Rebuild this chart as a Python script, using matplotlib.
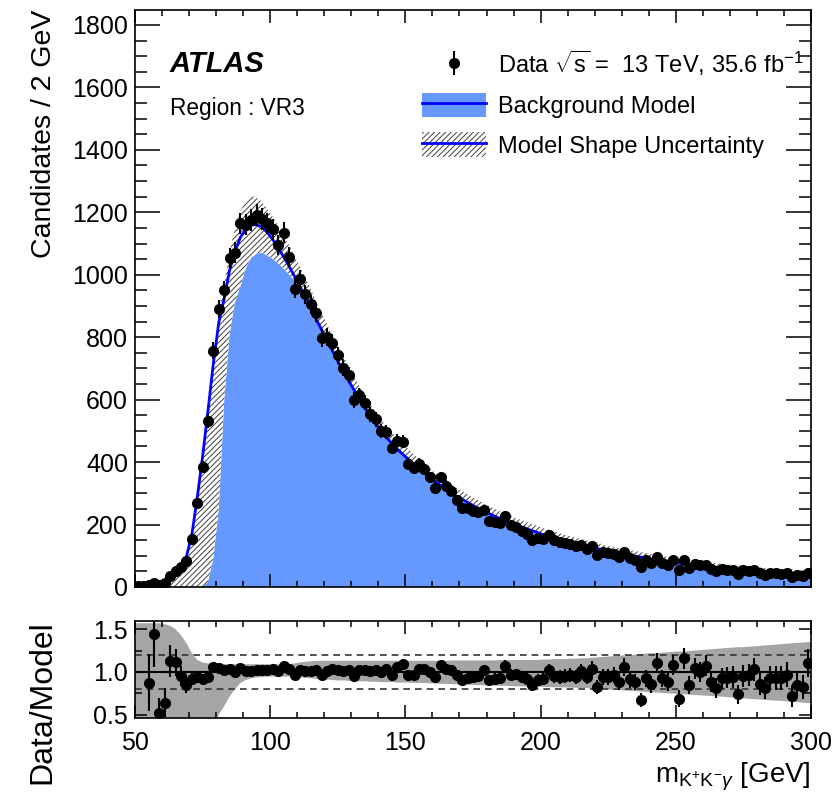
import numpy as np
import matplotlib
matplotlib.use('Agg')
import matplotlib.pyplot as plt
from matplotlib.ticker import MultipleLocator
from matplotlib.patches import Patch
from matplotlib.lines import Line2D

plt.rcParams['font.family'] = ['Liberation Sans', 'DejaVu Sans']
plt.rcParams['mathtext.fontset'] = 'custom'
plt.rcParams['mathtext.rm'] = 'Liberation Sans'
plt.rcParams['mathtext.it'] = 'Liberation Sans:italic'
plt.rcParams['mathtext.bf'] = 'Liberation Sans:bold'
plt.rcParams['hatch.linewidth'] = 0.7

# ---------------- data (2 GeV bins, 50-300 GeV) ----------------
bin_edges = np.arange(50, 302, 2)

model = [0, 0, 8, 9.7, 15.5, 22, 32, 45, 67, 97,
         167, 285, 418, 565, 718, 848, 925, 1015, 1075, 1120,
         1148, 1160, 1160, 1152, 1135, 1112, 1085, 1057, 1027, 995,
         962, 930, 897, 858, 824, 790, 757, 724, 692, 661,
         631, 602, 574, 548, 523, 500, 479, 460, 442, 425,
         410, 394, 379, 365, 351, 338, 325, 313, 302, 291,
         281, 271, 261, 252, 243, 235, 227, 219, 212, 205,
         198, 192, 186, 180, 174, 168, 163, 158, 153, 148,
         143.5, 139, 135, 131, 127, 123, 119, 115, 111.5, 108,
         105, 102, 99, 96, 93, 90, 87, 84.5, 82, 79.5,
         77, 75, 73, 71, 69, 67, 65, 63, 61.5, 60,
         58.5, 57, 55.5, 54, 52.5, 51, 49.5, 48.5, 47.5, 46.5,
         45.5, 44.5, 43.5, 42.5, 41.5]

data = [2, 2, 7, 14, 8, 14, 36, 50, 64, 82,
        154, 268, 385, 531, 757, 890, 950, 1053, 1071, 1165,
        1160, 1176, 1192, 1178, 1165, 1145, 1095, 1135, 1058, 955,
        985, 938, 905, 879, 798, 800, 783, 743, 703, 679,
        599, 614, 590, 553, 537, 500, 497, 446, 467, 466,
        394, 382, 393, 379, 351, 318, 351, 325, 308, 279,
        253, 252, 245, 239, 248, 212, 209, 204, 227, 197,
        192, 180, 171, 152, 157, 155, 166, 150, 144, 141,
        138, 131, 136, 123, 132, 101, 112, 108, 107, 95,
        111, 93, 87, 64, 86, 77, 96, 78, 72, 86,
        53, 87, 62, 74, 69, 72, 57, 51, 57, 56,
        55, 42, 53, 52, 54, 44, 40, 45, 44, 43,
        44, 32, 37, 35, 46]

# model shape uncertainty (main panel), relative to the model
shape_lo_rel = ([0.0] * 13 +
                [0.03, 0.13, 0.30, 0.65, 0.80, 0.85, 0.86, 0.89, 0.91, 0.92,
                 0.93, 0.935, 0.945, 0.955, 0.965, 0.975, 0.985, 0.99] +
                [1.0] * 94)

shape_hi_rel = ([1.0] * 13 +
                [1.01, 1.03, 1.04, 1.05, 1.06, 1.07, 1.075, 1.08, 1.08, 1.075,
                 1.07, 1.065] +
                [1.065, 1.065, 1.065, 1.065, 1.065, 1.065, 1.065, 1.065, 1.065, 1.065,
                 1.065, 1.065, 1.065, 1.07, 1.07, 1.07, 1.07, 1.07, 1.07, 1.07,
                 1.075, 1.075, 1.075, 1.075, 1.075, 1.08, 1.08, 1.08, 1.08, 1.085,
                 1.085, 1.085, 1.09, 1.09, 1.09, 1.095, 1.095, 1.095, 1.10, 1.10,
                 1.10, 1.105, 1.105, 1.11, 1.11, 1.11, 1.115, 1.115, 1.12, 1.12,
                 1.12, 1.125, 1.125, 1.13, 1.13, 1.135, 1.135, 1.14, 1.14, 1.145,
                 1.145, 1.15, 1.15, 1.155, 1.155, 1.16, 1.16, 1.165, 1.165, 1.17,
                 1.17, 1.175, 1.175, 1.18, 1.18, 1.185, 1.185, 1.19, 1.19, 1.195,
                 1.195, 1.20, 1.20, 1.205, 1.21, 1.21, 1.215, 1.22, 1.22, 1.225,
                 1.23, 1.23, 1.235, 1.24, 1.24, 1.245, 1.25, 1.25, 1.255, 1.26])

# ratio-panel band
ratio_band_hi = ([1.57] * 5 +
                 [1.56, 1.54, 1.50, 1.43, 1.34, 1.22, 1.14, 1.11, 1.10] +
                 [1.09] * 15 +
                 [1.10, 1.11, 1.12, 1.125, 1.13, 1.13, 1.13] +
                 [1.13] * 22 +
                 [1.135] * 9 + [1.14] * 8 +
                 [1.145, 1.145, 1.15, 1.15, 1.15, 1.155, 1.155, 1.16,
                  1.16, 1.165, 1.17, 1.175, 1.18, 1.185, 1.19, 1.195, 1.20, 1.20,
                  1.21, 1.215, 1.22, 1.22, 1.225, 1.23, 1.235, 1.24, 1.24, 1.245,
                  1.25, 1.255, 1.26, 1.265, 1.27, 1.275, 1.28, 1.285, 1.29, 1.29,
                  1.295, 1.30, 1.305, 1.31, 1.315, 1.32, 1.325, 1.33, 1.335, 1.34,
                  1.345, 1.35])

ratio_band_lo = ([0.0] * 14 +
                 [0.30, 0.50, 0.60, 0.71, 0.80, 0.87, 0.905, 0.925, 0.935, 0.94,
                  0.945, 0.945, 0.945, 0.945, 0.945,
                  0.94, 0.935, 0.93, 0.925, 0.92, 0.915, 0.91,
                  0.905, 0.90, 0.90, 0.895, 0.895, 0.89, 0.89, 0.885, 0.885, 0.88,
                  0.88, 0.88, 0.875, 0.875, 0.875, 0.87, 0.87, 0.87, 0.865, 0.865,
                  0.86, 0.86,
                  0.857, 0.855, 0.853, 0.85, 0.848, 0.846, 0.844, 0.842, 0.84, 0.838,
                  0.836, 0.834, 0.832, 0.83, 0.83, 0.828, 0.826,
                  0.824, 0.822, 0.82, 0.82, 0.818, 0.816, 0.814, 0.812, 0.81, 0.806,
                  0.802, 0.798, 0.794, 0.79, 0.786, 0.782, 0.778, 0.774, 0.77, 0.766,
                  0.762, 0.758, 0.754, 0.75, 0.746, 0.742, 0.738, 0.734, 0.73, 0.726,
                  0.722, 0.718, 0.714, 0.71, 0.705, 0.70, 0.695, 0.69, 0.685, 0.68,
                  0.676, 0.672, 0.668, 0.664, 0.66, 0.655, 0.65, 0.645, 0.64, 0.635])

for name, arr in [('model', model), ('data', data), ('shape_lo', shape_lo_rel),
                  ('shape_hi', shape_hi_rel), ('rhi', ratio_band_hi), ('rlo', ratio_band_lo)]:
    assert len(arr) == 125, (name, len(arr))

centers = 0.5 * (bin_edges[:-1] + bin_edges[1:])
model_a = np.array(model, float)
data_a = np.array(data, float)
err = np.sqrt(data_a)
lower_main = model_a * np.array(shape_lo_rel)
upper_main = model_a * np.array(shape_hi_rel)

xe = np.r_[bin_edges[0], centers, bin_edges[-1]]
def pad(a):
    a = np.asarray(a, float)
    return np.r_[a[0], a, a[-1]]

W, H = 837, 793
fig = plt.figure(figsize=(W / 100, H / 100), dpi=100)
ax = fig.add_axes([135 / W, 1 - 587 / H, 676 / W, 577 / H])
axr = fig.add_axes([135 / W, 1 - 718 / H, 676 / W, 97.3 / H])

BLUE_FILL = '#6699ff'
HATCH_COL = '#404040'
HATCH = '//////'

# ---------------- main panel ----------------
ax.fill_between(xe, 0, pad(lower_main), facecolor=BLUE_FILL, edgecolor='none', lw=0, zorder=1)
ax.fill_between(xe, pad(lower_main), pad(upper_main), facecolor='white', edgecolor=HATCH_COL,
                hatch=HATCH, lw=0, zorder=2)
ax.plot(xe, pad(model_a), color='#0000ff', lw=2.0, zorder=3)
cont = ax.errorbar(centers, data_a, yerr=err, fmt='o', color='black', ms=7,
                   elinewidth=1.5, capsize=0, zorder=5)

ax.set_xlim(50, 300)
ax.set_ylim(0, 1848)
ax.xaxis.set_major_locator(MultipleLocator(50))
ax.xaxis.set_minor_locator(MultipleLocator(10))
ax.yaxis.set_major_locator(MultipleLocator(200))
ax.yaxis.set_minor_locator(MultipleLocator(50))
ax.tick_params(axis='both', which='both', direction='in', top=True, right=True,
               width=1.1, labelsize=18, pad=5)
ax.tick_params(axis='y', which='major', length=18)
ax.tick_params(axis='y', which='minor', length=8.6)
ax.tick_params(axis='x', which='major', length=9.4)
ax.tick_params(axis='x', which='minor', length=4.3)
ax.tick_params(axis='x', labelbottom=False)
for s in ax.spines.values():
    s.set_linewidth(1.2)
ax.set_ylabel('Candidates / 2 GeV', fontsize=20.5, loc='top')
ax.yaxis.set_label_coords(-0.1154, 1.0)

fig.text(170 / W, 1 - 72 / H, 'ATLAS', fontsize=21, fontweight='bold', fontstyle='italic',
         va='baseline', ha='left')
fig.text(170 / W, 1 - 115 / H, 'Region : VR3', fontsize=16.3, va='baseline', ha='left')

bkg_patch = Patch(facecolor=BLUE_FILL, edgecolor='none', lw=0)
unc_patch = Patch(facecolor='white', edgecolor=HATCH_COL, hatch=HATCH, lw=0)
bl1 = Line2D([], [], color='#0000ff', lw=2.0)
bl2 = Line2D([], [], color='#0000ff', lw=2.0)
leg = ax.legend(handles=[cont, (bkg_patch, bl1), (unc_patch, bl2)],
                labels=[r'Data $\sqrt{\mathrm{s}}$ =  13 TeV, 35.6 fb$^{\mathrm{-1}}$',
                        'Background Model', 'Model Shape Uncertainty'],
                loc='upper left', bbox_to_anchor=(422 / W, 1 - 48.5 / H),
                bbox_transform=fig.transFigure, frameon=False, fontsize=17,
                handlelength=2.71, handleheight=1.23, labelspacing=0.62,
                handletextpad=0.51, borderpad=0, borderaxespad=0)

# ---------------- ratio panel ----------------
with np.errstate(divide='ignore', invalid='ignore'):
    ratio = np.where(model_a > 0, data_a / model_a, np.nan)
    rerr = np.where(model_a > 0, err / model_a, np.nan)

axr.fill_between(xe, pad(ratio_band_lo), pad(ratio_band_hi), facecolor='#a5a5a5',
                 edgecolor='none', lw=0, zorder=1)
axr.axhline(1.0, color='black', lw=1.5, zorder=2)
axr.axhline(0.8, color='#333333', lw=1.2, ls=(0, (4, 3)), zorder=2)
axr.axhline(1.2, color='#333333', lw=1.2, ls=(0, (4, 3)), zorder=2)
axr.errorbar(centers, ratio, yerr=rerr, fmt='o', color='black', ms=7,
             elinewidth=1.5, capsize=0, zorder=5)
axr.set_xlim(50, 300)
axr.set_ylim(0.46, 1.6)
axr.xaxis.set_major_locator(MultipleLocator(50))
axr.xaxis.set_minor_locator(MultipleLocator(10))
axr.yaxis.set_major_locator(MultipleLocator(0.5))
axr.yaxis.set_minor_locator(MultipleLocator(0.25))
axr.tick_params(axis='both', which='both', direction='in', top=True, right=True,
                width=1.1, labelsize=18, pad=5)
axr.tick_params(axis='x', which='major', length=9.1, pad=9)
axr.tick_params(axis='x', which='minor', length=4.3)
axr.tick_params(axis='y', which='major', length=8.4)
axr.tick_params(axis='y', which='minor', length=4.8)
for s in axr.spines.values():
    s.set_linewidth(1.2)
axr.set_ylabel('Data/Model', fontsize=23, loc='top')
axr.yaxis.set_label_coords(-0.1154, 1.0)
axr.set_xlabel(r'$\mathrm{m}_{\mathrm{K^{+}K^{-}}\gamma}$ [GeV]', fontsize=20, loc='right')
axr.xaxis.set_label_coords(1.0, -0.44)

fig.savefig('out.png', dpi=100)
